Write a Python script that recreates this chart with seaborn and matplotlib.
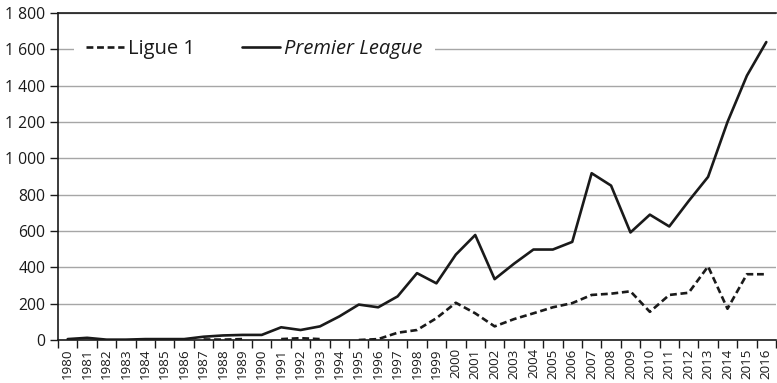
import numpy as np
import pandas as pd
import matplotlib
matplotlib.use("Agg")
import matplotlib.pyplot as plt
from matplotlib.ticker import FuncFormatter, FixedLocator
from matplotlib.lines import Line2D
import seaborn as sns

years = list(range(1980, 2017))
premier_league = [5, 12, 2, 2, 5, 5, 5, 18, 25, 28, 28, 70, 55, 75, 130, 195, 180, 240,
                  368, 312, 470, 578, 335, 420, 498, 498, 540, 918, 850, 592, 690, 625,
                  765, 898, 1200, 1455, 1640]
ligue_1 = [np.nan, np.nan, np.nan, np.nan, np.nan, np.nan, np.nan, 3, 2, 5, np.nan, 5, 10, 5,
           np.nan, 0, 5, 40, 55, 120, 205, 147, 75, 115, 147, 180, 203, 248, 255, 268,
           155, 248, 260, 405, 172, 362, 362]
series_names = ["Ligue 1", "Premier League"]
yticks = [0, 200, 400, 600, 800, 1000, 1200, 1400, 1600, 1800]

sns.set_theme(style="white")
plt.rcParams["font.family"] = ["Open Sans", "DejaVu Sans"]

rows = []
for name, vals in zip(series_names, [ligue_1, premier_league]):
    seg = 0
    prev_nan = True
    for y, v in zip(years, vals):
        if v is None or (isinstance(v, float) and np.isnan(v)):
            prev_nan = True
            continue
        if prev_nan:
            seg += 1
            prev_nan = False
        rows.append({"year": y, "value": v, "league": name, "seg": f"{name}-{seg}"})
df = pd.DataFrame(rows)

fig = plt.figure(figsize=(7.77, 3.83), dpi=100)
ax = fig.add_axes([58 / 777, 1 - 340 / 383, 718 / 777, 327 / 383])

sns.lineplot(data=df, x="year", y="value", style="league", units="seg", estimator=None,
             style_order=series_names, dashes={"Ligue 1": (2.6, 1.4), "Premier League": ""},
             color="#1a1a1a", linewidth=1.9, legend=False, ax=ax, zorder=3)

ax.set_xlim(1979.5, 2016.5)
ax.set_ylim(0, 1800)
ax.set_xlabel("")
ax.set_ylabel("")

ax.set_yticks(yticks)
ax.yaxis.set_major_formatter(FuncFormatter(lambda v, p: f"{v:,.0f}".replace(",", " ")))
ax.set_xticks(years)
ax.set_xticklabels([str(y) for y in years], rotation=90)
ax.xaxis.set_minor_locator(FixedLocator([y + 0.5 for y in range(1979, 2017)]))
ax.tick_params(axis="x", which="major", length=0, pad=6, labelsize=9.6, colors="#1a1a1a")
ax.tick_params(axis="x", which="minor", length=6, width=1, color="#1a1a1a", bottom=True)
ax.tick_params(axis="y", which="major", length=6, width=1, color="#1a1a1a", left=True,
               labelsize=11.3, pad=3, labelcolor="#1a1a1a")

ax.grid(axis="y", color="#a6a6a6", linewidth=1.0)
ax.set_axisbelow(True)
for s in ["top", "left", "bottom"]:
    ax.spines[s].set_visible(True)
    ax.spines[s].set_color("#1a1a1a")
    ax.spines[s].set_linewidth(1.2)
ax.spines["right"].set_visible(False)

handles = [Line2D([], [], color="#1a1a1a", linewidth=1.9, linestyle=(0, (2.6, 1.4))),
           Line2D([], [], color="#1a1a1a", linewidth=1.9, linestyle="-")]
leg = ax.legend(handles, series_names, ncol=2, loc="center left",
                bbox_to_anchor=(1979.5 + 0.8, 1600), bbox_transform=ax.transData,
                frameon=True, facecolor="white", edgecolor="none", framealpha=1,
                fontsize=14.5, handlelength=1.9, handletextpad=0.22, columnspacing=2.3,
                borderpad=0.6, borderaxespad=0, fancybox=False)
leg.get_frame().set_linewidth(0)
leg.set_zorder(5)
texts = leg.get_texts()
texts[0].set_color("#1a1a1a")
texts[1].set_color("#1a1a1a")
texts[1].set_style("italic")

fig.savefig("out.png", dpi=100)
